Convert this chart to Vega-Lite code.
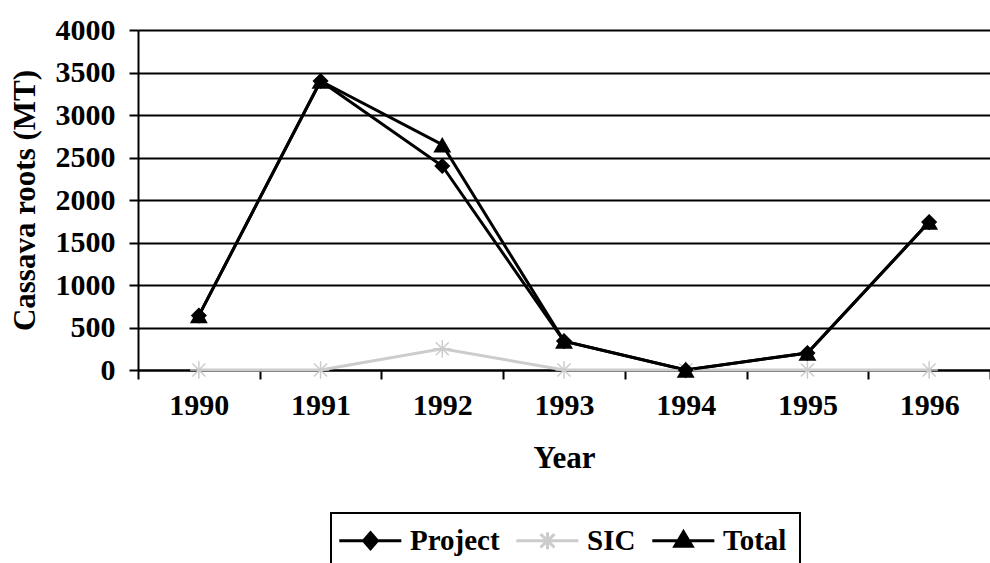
{
  "$schema": "https://vega.github.io/schema/vega-lite/v6.json",
  "width": 852,
  "height": 340,
  "autosize": {"type": "none"},
  "padding": {"left": 138, "top": 30, "right": 0, "bottom": 193},
  "background": "white",
  "data": {
    "values": [
      {"year": "1990", "series": "Project", "value": 640},
      {"year": "1991", "series": "Project", "value": 3400},
      {"year": "1992", "series": "Project", "value": 2400},
      {"year": "1993", "series": "Project", "value": 340},
      {"year": "1994", "series": "Project", "value": 0},
      {"year": "1995", "series": "Project", "value": 200},
      {"year": "1996", "series": "Project", "value": 1740},
      {"year": "1990", "series": "SIC", "value": 0},
      {"year": "1991", "series": "SIC", "value": 0},
      {"year": "1992", "series": "SIC", "value": 250},
      {"year": "1993", "series": "SIC", "value": 0},
      {"year": "1994", "series": "SIC", "value": 0},
      {"year": "1995", "series": "SIC", "value": 0},
      {"year": "1996", "series": "SIC", "value": 0},
      {"year": "1990", "series": "Total", "value": 640},
      {"year": "1991", "series": "Total", "value": 3400},
      {"year": "1992", "series": "Total", "value": 2650},
      {"year": "1993", "series": "Total", "value": 340},
      {"year": "1994", "series": "Total", "value": 0},
      {"year": "1995", "series": "Total", "value": 200},
      {"year": "1996", "series": "Total", "value": 1740}
    ]
  },
  "config": {
    "view": {"stroke": null},
    "font": "Liberation Serif",
    "axis": {
      "labelFont": "Liberation Serif",
      "labelFontWeight": "bold",
      "labelFontSize": 30,
      "labelColor": "black",
      "titleFont": "Liberation Serif",
      "titleFontWeight": "bold",
      "titleFontSize": 31,
      "titleColor": "black",
      "domainColor": "black",
      "domainWidth": 2,
      "tickColor": "black",
      "tickWidth": 2
    },
    "legend": {
      "orient": "none",
      "legendX": 193,
      "legendY": 483,
      "direction": "horizontal",
      "columns": 3,
      "strokeColor": "black",
      "padding": 13,
      "labelFont": "Liberation Serif",
      "labelFontWeight": "bold",
      "labelFontSize": 29,
      "labelColor": "black",
      "labelOffset": 37,
      "columnPadding": 10,
      "symbolSize": 576,
      "symbolStrokeWidth": 3,
      "symbolOpacity": 1
    }
  },
  "encoding": {
    "x": {
      "field": "year",
      "type": "ordinal",
      "scale": {"paddingInner": 0, "paddingOuter": 0},
      "axis": {
        "title": "Year",
        "labelAngle": 0,
        "tickBand": "extent",
        "tickSize": 9,
        "labelPadding": 11,
        "titlePadding": 23,
        "grid": false
      }
    },
    "y": {
      "field": "value",
      "type": "quantitative",
      "scale": {"domain": [0, 4000], "nice": false},
      "axis": {
        "title": "Cassava roots (MT)",
        "values": [0, 500, 1000, 1500, 2000, 2500, 3000, 3500, 4000],
        "format": "d",
        "grid": true,
        "gridColor": "black",
        "gridWidth": 2,
        "gridOpacity": 1,
        "tickSize": 9,
        "labelPadding": 14,
        "titlePadding": 14
      }
    }
  },
  "layer": [
    {
      "mark": {"type": "line", "strokeWidth": 3},
      "encoding": {
        "color": {
          "field": "series",
          "type": "nominal",
          "scale": {"domain": ["Project", "SIC", "Total"], "range": ["black", "#cccccc", "black"]},
          "legend": {
            "title": null,
            "symbolType": "M-1.6,0H3.57",
            "encode": {
              "legend": {"update": {"strokeWidth": {"value": 2}}},
              "symbols": {
                "update": {
                  "shape": {"signal": "datum.value === 'Project' ? 'M-1.6,0H3.57M1,-0.67L1.58,0L1,0.67L0.42,0Z' : datum.value === 'SIC' ? 'M-1.6,0H3.57M1,-0.7V0.7M0.42,-0.55L1.58,0.55M0.42,0.55L1.58,-0.55' : 'M-1.6,0H3.57M1,-0.75L1.72,0.45L0.28,0.45Z'"},
                  "stroke": {"signal": "datum.value === 'SIC' ? '#cccccc' : 'black'"},
                  "fill": {"signal": "datum.value === 'SIC' ? '#cccccc' : 'black'"},
                  "strokeWidth": {"value": 3}
                }
              }
            }
          }
        }
      }
    },
    {
      "transform": [{"filter": "datum.series === 'SIC'"}],
      "mark": {"type": "point", "shape": "M0,-1V1M-1,0H1M-0.75,-0.75L0.75,0.75M-0.75,0.75L0.75,-0.75", "size": 300, "stroke": "#cccccc", "strokeWidth": 1.5, "filled": false, "opacity": 1}
    },
    {
      "transform": [{"filter": "datum.series === 'Project'"}],
      "mark": {"type": "point", "shape": "diamond", "size": 260, "filled": true, "fill": "black", "opacity": 1}
    },
    {
      "transform": [{"filter": "datum.series === 'Total'"}],
      "mark": {"type": "point", "shape": "triangle-up", "size": 320, "filled": true, "fill": "black", "opacity": 1}
    }
  ]
}
